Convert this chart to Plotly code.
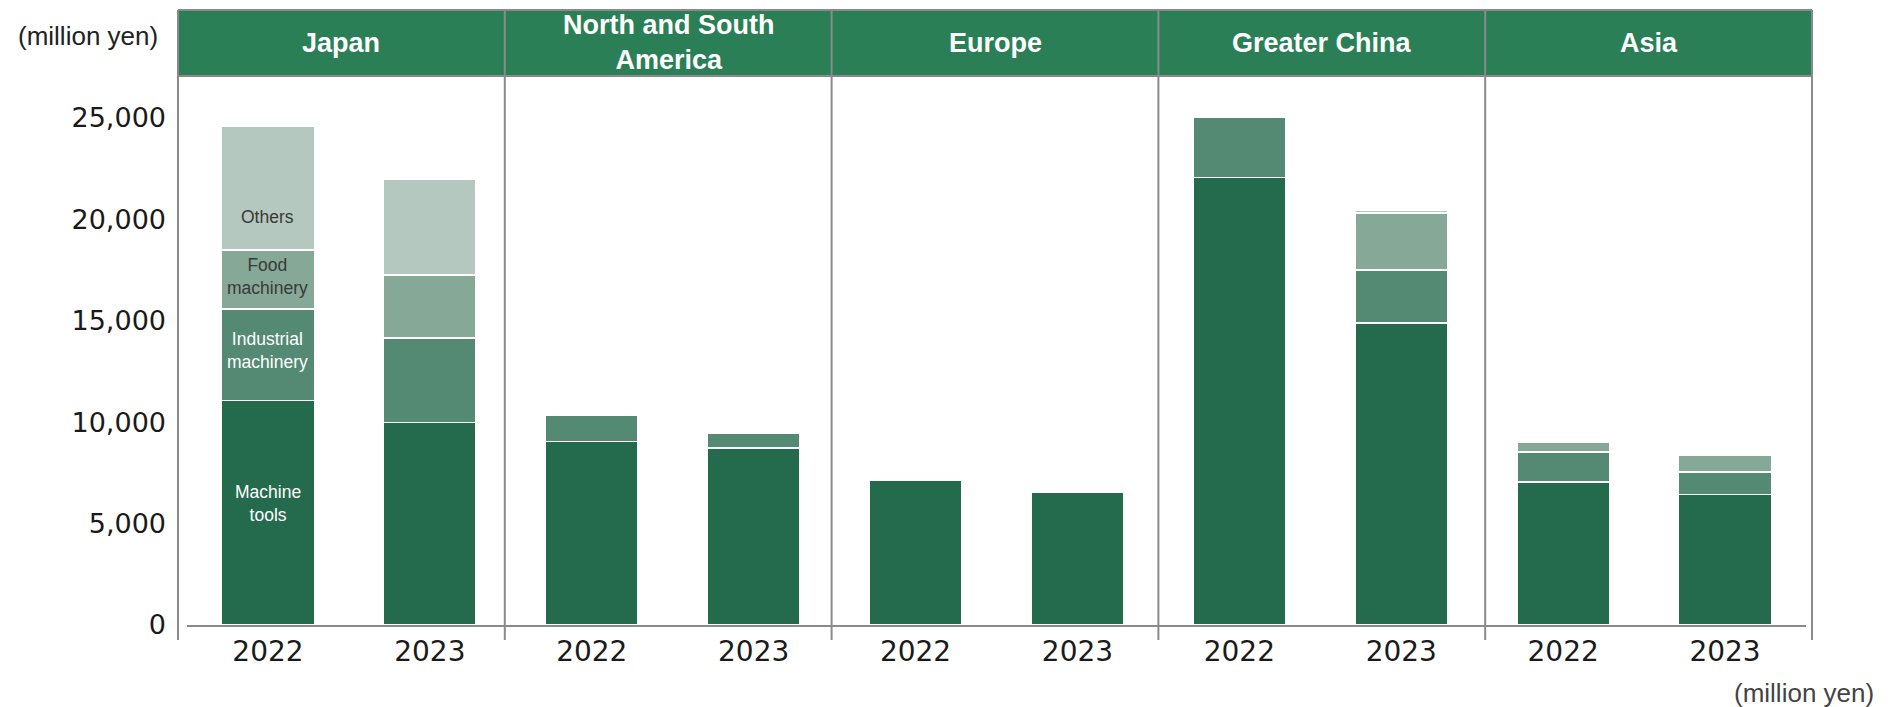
import plotly.graph_objects as go

# ---- data (million yen) ----
regions = ["Japan", "North and South<br>America", "Europe", "Greater China", "Asia"]
years = ["2022", "2023"]

# one entry per bar: Japan 2022, Japan 2023, Americas 2022, Americas 2023, ...
machine_tools = [11060, 9980, 9060, 8740, 7150, 6550, 22060, 14880, 7040, 6425]
industrial_machinery = [4510, 4170, 1300, 710, 0, 0, 2990, 2630, 1490, 1120]
food_machinery = [2920, 3120, 0, 0, 0, 0, 0, 2800, 490, 840]
others = [6080, 4730, 0, 0, 0, 0, 0, 120, 0, 0]

segments = [
    ("Machine tools", machine_tools, "#246b4e"),
    ("Industrial machinery", industrial_machinery, "#548a73"),
    ("Food machinery", food_machinery, "#85a897"),
    ("Others", others, "#b5c8bf"),
]

# ---- page geometry (pixels) ----
W, H = 1892, 707
PLOT_L, PLOT_R = 187, 1806        # bar axis extent
PLOT_T, PLOT_B = 76, 625          # header bottom / zero line
FRAME_L, FRAME_R = 178, 1812      # header + panel frame
HEAD_T = 10
LINE_BOTTOM = 640
Y_MAX = 27071

def px_x(p):
    return (p - PLOT_L) / (PLOT_R - PLOT_L)

def px_y(p):
    return (PLOT_B - p) / (PLOT_B - PLOT_T)

n_bars = len(machine_tools)
xs = list(range(n_bars))

fig = go.Figure()
for name, vals, color in segments:
    fig.add_trace(go.Bar(
        x=xs,
        y=[v if v else None for v in vals],
        name=name,
        width=0.573,
        marker=dict(color=color, line=dict(color="white", width=1.5)),
        hoverinfo="name+y",
    ))

# segment captions on the first Japan bar, placed from the stacked values
captions = [
    ("Machine<br>tools", 0, 0.54, "white"),
    ("Industrial<br>machinery", 1, 0.55, "white"),
    ("Food<br>machinery", 2, 0.55, "#3a3a3a"),
    ("Others", 3, 0.265, "#3a3a3a"),
]
annotations = []
for text, idx, frac, col in captions:
    base = sum(segments[k][1][0] for k in range(idx))
    val = segments[idx][1][0]
    annotations.append(dict(
        x=0, y=base + val * frac, xref="x", yref="y", text=text,
        showarrow=False, font=dict(family="Liberation Sans, Arial", size=17.5, color=col),
        align="center",
    ))

# header row and panel dividers
shapes = []
gray = "#8a8a8a"
shapes.append(dict(type="rect", xref="paper", yref="paper",
                   x0=px_x(FRAME_L), x1=px_x(FRAME_R), y0=px_y(PLOT_T), y1=px_y(HEAD_T),
                   fillcolor="#2a7f56", line=dict(width=0), layer="below"))
for yy in (HEAD_T, PLOT_T):
    shapes.append(dict(type="line", xref="paper", yref="paper",
                       x0=px_x(FRAME_L), x1=px_x(FRAME_R), y0=px_y(yy), y1=px_y(yy),
                       line=dict(color=gray, width=2)))
cell_w = (FRAME_R - FRAME_L) / len(regions)
for i in range(len(regions) + 1):
    xp = FRAME_L + i * cell_w
    shapes.append(dict(type="line", xref="paper", yref="paper",
                       x0=px_x(xp), x1=px_x(xp), y0=px_y(HEAD_T), y1=px_y(LINE_BOTTOM),
                       line=dict(color=gray, width=2)))

for i, reg in enumerate(regions):
    annotations.append(dict(
        x=px_x(FRAME_L + (i + 0.5) * cell_w), y=px_y(43), xref="paper", yref="paper",
        text="<b>" + reg + "</b>", showarrow=False, align="center",
        xanchor="center", yanchor="middle",
        font=dict(family="Liberation Sans, Arial", size=27, color="white"),
    ))

# unit labels
annotations.append(dict(
    x=px_x(88), y=px_y(36), xref="paper", yref="paper", text="(million yen)",
    showarrow=False, xanchor="center", yanchor="middle",
    font=dict(family="Liberation Sans, Arial", size=26, color="#222222"),
))
annotations.append(dict(
    x=px_x(1876), y=px_y(693), xref="paper", yref="paper", text="(million yen)",
    showarrow=False, xanchor="right", yanchor="middle",
    font=dict(family="Liberation Sans, Arial", size=26, color="#444444"),
))

fig.update_layout(
    width=W, height=H,
    margin=dict(l=PLOT_L, r=W - PLOT_R, t=PLOT_T, b=H - PLOT_B, pad=0),
    barmode="stack",
    showlegend=False,
    plot_bgcolor="white",
    paper_bgcolor="white",
    shapes=shapes,
    annotations=annotations,
    xaxis=dict(
        range=[-0.5, n_bars - 0.5],
        tickvals=xs,
        ticktext=[years[i % 2] for i in xs],
        showgrid=False, zeroline=False,
        showline=True, linecolor=gray, linewidth=2,
        ticks="", ticklabelstandoff=0,
        tickfont=dict(family="DejaVu Sans", size=28, color="#1a1a1a"),
        fixedrange=True,
    ),
    yaxis=dict(
        range=[0, Y_MAX],
        tickvals=[0, 5000, 10000, 15000, 20000, 25000],
        tickformat=",",
        showgrid=False, zeroline=False, showline=False,
        ticks="", ticklabelstandoff=20,
        tickfont=dict(family="DejaVu Sans", size=27, color="#1a1a1a"),
        fixedrange=True,
    ),
)

fig.write_html("out.html")
